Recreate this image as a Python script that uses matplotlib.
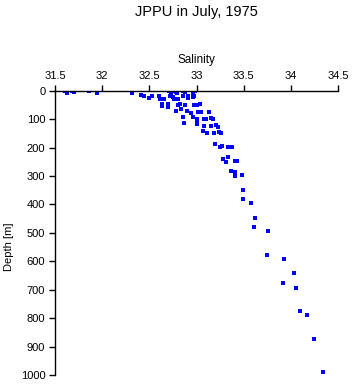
import matplotlib
matplotlib.use("Agg")
import matplotlib.pyplot as plt

plt.rcParams['font.family'] = ['Liberation Sans', 'DejaVu Sans']

salinity = [
    31.605, 31.623, 31.676, 31.703, 31.862, 31.941, 32.311, 32.318,
    32.410, 32.445, 32.498, 32.523, 32.601, 32.611, 32.657, 32.629, 32.629, 32.699, 32.699,
    32.710, 32.725, 32.717, 32.763, 32.778, 32.756, 32.763, 32.788, 32.809,
    32.858, 32.876, 32.858, 32.911, 32.915, 32.964, 32.964, 32.989,
    32.823, 32.805, 32.876, 32.781, 32.834, 32.894, 32.940, 32.982, 33.035, 33.017, 33.053, 33.130,
    32.852, 32.865, 32.964, 33.000, 33.077, 33.106, 33.159, 33.170, 33.000, 33.077, 33.151, 33.212, 33.229,
    33.070, 33.112, 33.183, 33.236, 33.265,
    33.194, 33.247, 33.275, 33.339, 33.381,
    33.335, 33.282, 33.314, 33.413, 33.430,
    33.367, 33.413, 33.409, 33.483,
    33.494, 33.490, 33.575, 33.621, 33.610, 33.758,
    33.752, 33.925, 34.034, 33.917, 34.055, 34.097, 34.168, 34.246, 34.341,
    32.971, 32.974, 33.000, 32.964, 33.000,
]
depth = [
    0, 9, 0, 6, 0, 9, 1, 9,
    15, 19, 27, 19, 19, 28, 29, 47, 54, 47, 58,
    0, 12, 19, 0, 6, 23, 30, 9, 30,
    0, 6, 19, 19, 27, 9, 21, 0,
    47, 50, 49, 72, 65, 72, 77, 49, 48, 75, 76, 74,
    94, 115, 94, 100, 100, 100, 97, 100, 118, 124, 124, 122, 127,
    142, 150, 148, 146, 150,
    187, 197, 195, 199, 199,
    234, 240, 251, 247, 248,
    282, 285, 299, 297,
    350, 382, 396, 449, 480, 493,
    579, 593, 641, 676, 693, 775, 790, 874, 988,
    18, 50, 50, 91, 115,
]
xticks = [31.5, 32, 32.5, 33, 33.5, 34, 34.5]
xticklabels = ['31.5', '32', '32.5', '33', '33.5', '34', '34.5']
yticks = [0, 100, 200, 300, 400, 500, 600, 700, 800, 900, 1000]

fig = plt.figure(figsize=(3.53, 3.84), dpi=100)
ax = fig.add_axes([55/353, 1 - 375/384, (338 - 55)/353, (375 - 90.7)/384])

ax.plot(salinity, depth, linestyle='none', marker='s', markersize=2.3,
        color='#0000ff', markeredgewidth=0)

ax.set_xlim(31.5, 34.5)
ax.set_ylim(1000, 0)
ax.xaxis.tick_top()
ax.set_xticks(xticks)
ax.set_xticklabels(xticklabels)
ax.set_yticks(yticks)
ax.tick_params(axis='both', direction='out', length=4, width=1, labelsize=8,
               color='black', pad=3)
for s in ['right', 'bottom']:
    ax.spines[s].set_visible(False)
for s in ['top', 'left']:
    ax.spines[s].set_linewidth(1)
ax.spines['left'].set_bounds(0, 1000)

ax.set_ylabel('Depth [m]', fontsize=8)
ax.yaxis.set_label_coords(-0.145, 0.45)
fig.text(196/353, 1 - 60/384, 'Salinity', ha='center', va='center', fontsize=8.5)
fig.text(196/353, 1 - 12/384, 'JPPU in July, 1975', ha='center', va='center', fontsize=10.5)

fig.savefig('out.png', dpi=100)
